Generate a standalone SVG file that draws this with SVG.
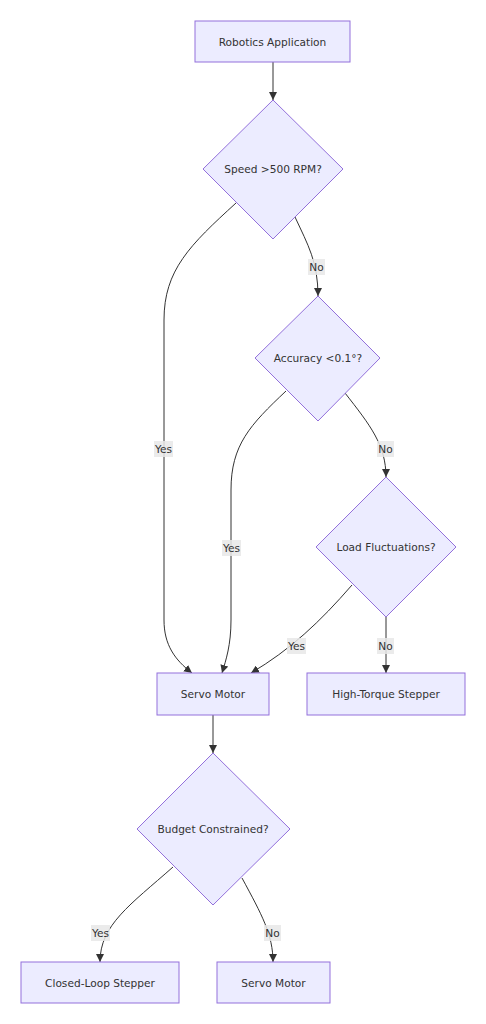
<svg xmlns="http://www.w3.org/2000/svg" width="486" height="1024" viewBox="0 0 486 1024">
<style>
.node rect,.node polygon{fill:#ECECFF;stroke:#9370DB;stroke-width:1}
text{font-family:"Trebuchet MS","DejaVu Sans",Verdana,sans-serif;font-size:10.6px;fill:#333;text-anchor:middle;dominant-baseline:central}
.edge{fill:none;stroke:#333;stroke-width:1;marker-end:url(#arrow)}
.lbl rect{fill:#e8e8e8;opacity:0.85}
</style>
<defs>
<marker id="arrow" viewBox="0 0 10 10" refX="10" refY="5" markerWidth="8" markerHeight="8" markerUnits="userSpaceOnUse" orient="auto">
<path d="M0,0 L10,5 L0,10 z" fill="#333"/>
</marker>
</defs>
<rect width="486" height="1024" fill="#ffffff"/>
<g id="connectors">
<path class="edge" d="M273,62 L273,100"/>
<path class="edge" d="M236,203 C190,245 164,270 164,320 L164,620 C164,645 175,660 192,673"/>
<path class="edge" d="M295,217 C308,245 318,262 318,296"/>
<path class="edge" d="M286,391 C250,425 231,445 231,490 L231,620 C231,645 226,660 222,673"/>
<path class="edge" d="M345,393 C370,425 386,445 386,477"/>
<path class="edge" d="M352,585 C320,622 290,650 251,673"/>
<path class="edge" d="M386,617 L386,673"/>
<path class="edge" d="M213,715 L213,753"/>
<path class="edge" d="M173,867 C130,905 100,925 100,962"/>
<path class="edge" d="M242,878 C262,915 273,935 273,962"/>
<g class="lbl" id="lbl-d1-yes"><rect x="154" y="441" width="19" height="16"/><text x="163.5" y="449">Yes</text></g>
<g class="lbl" id="lbl-d1-no"><rect x="308" y="259" width="17" height="16"/><text x="316.5" y="267">No</text></g>
<g class="lbl" id="lbl-d2-yes"><rect x="222" y="540" width="19" height="16"/><text x="231.5" y="548">Yes</text></g>
<g class="lbl" id="lbl-d2-no"><rect x="377" y="441" width="17" height="16"/><text x="385.5" y="449">No</text></g>
<g class="lbl" id="lbl-d3-yes"><rect x="287" y="638" width="19" height="16"/><text x="296.5" y="646">Yes</text></g>
<g class="lbl" id="lbl-d3-no"><rect x="377" y="638" width="17" height="16"/><text x="385.5" y="646">No</text></g>
<g class="lbl" id="lbl-d4-yes"><rect x="91" y="925" width="19" height="16"/><text x="100.5" y="933">Yes</text></g>
<g class="lbl" id="lbl-d4-no"><rect x="264" y="925" width="17" height="16"/><text x="272.5" y="933">No</text></g>
</g>
<g class="node" id="robotics-application"><rect x="195" y="21" width="155" height="41"/><text x="272.5" y="41.5">Robotics Application</text></g>
<g class="node" id="speed"><polygon points="273,100 343,169 273,239 203,169"/><text x="273" y="169">Speed &gt;500 RPM?</text></g>
<g class="node" id="accuracy"><polygon points="318,296 380,358 318,421 255,358"/><text x="318" y="358">Accuracy &lt;0.1°?</text></g>
<g class="node" id="load"><polygon points="386,477 456,547 386,617 316,547"/><text x="386" y="547">Load Fluctuations?</text></g>
<g class="node" id="servo-motor"><rect x="157" y="673" width="112" height="42"/><text x="213" y="694">Servo Motor</text></g>
<g class="node" id="high-torque"><rect x="307" y="673" width="158" height="42"/><text x="386" y="694">High-Torque Stepper</text></g>
<g class="node" id="budget"><polygon points="213,753 290,829 213,905 137,829"/><text x="213" y="829">Budget Constrained?</text></g>
<g class="node" id="closed-loop"><rect x="21" y="962" width="158" height="41"/><text x="100" y="982.5">Closed-Loop Stepper</text></g>
<g class="node" id="servo-motor-2"><rect x="217" y="962" width="113" height="41"/><text x="273.5" y="982.5">Servo Motor</text></g>
</svg>
